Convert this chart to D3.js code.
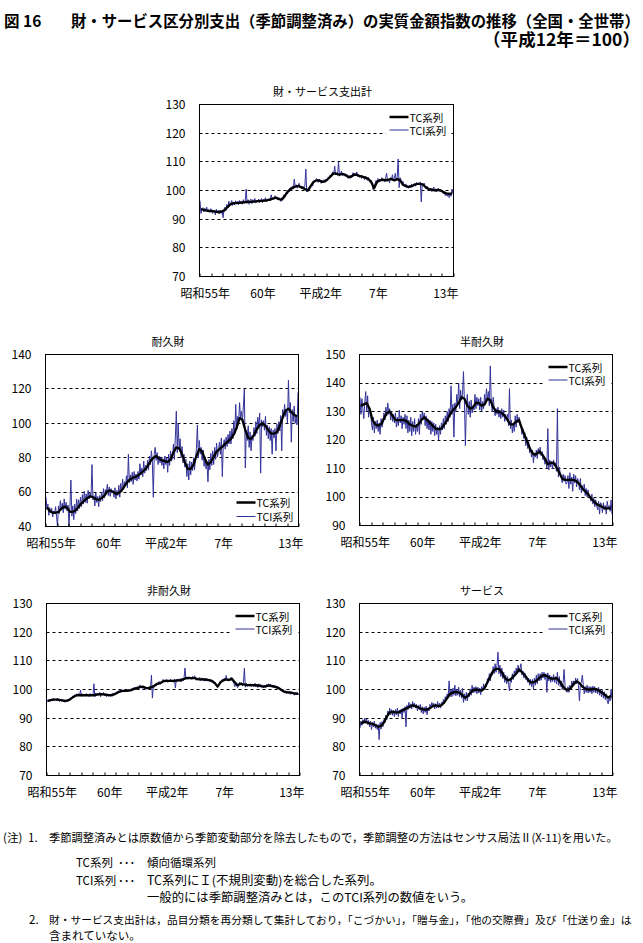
<!DOCTYPE html>
<html><head><meta charset="utf-8">
<script src="https://cdn.jsdelivr.net/npm/d3@7"></script>
<style>
html,body{margin:0;padding:0;background:#fff;}
svg{display:block;}
</style></head><body>
<svg id="c" width="643" height="943"></svg>
<script>
// ---------------- DATA ----------------
const startYear = 1980;
const endYear = 2002;
const xLabelYears = [1980, 1985, 1990, 1995, 2001];
const xLabels = ["昭和55年", "60年", "平成2年", "7年", "13年"];
const seriesNames = ["TC系列", "TCI系列"];
const panelTitles = ["財・サービス支出計", "耐久財", "半耐久財", "非耐久財", "サービス"];
const ticks70to130 = [70, 80, 90, 100, 110, 120, 130];
const ticks40to140 = [40, 60, 80, 100, 120, 140];
const ticks90to150 = [90, 100, 110, 120, 130, 140, 150];

// TC series: quarterly values (4 per year, 1980-2001)
const totalTC = [
 93.5,93.2,93.0,92.8, 92.8,92.6,92.5,92.6, 93.0,94.0,95.0,95.5, 95.6,95.7,95.8,95.9,
 96.0,96.0,96.1,96.2, 96.3,96.4,96.5,96.6, 96.8,97.2,97.5,97.0, 96.8,98.0,99.5,100.5,
 101.0,101.5,101.5,101.0, 100.5,100.0,101.5,103.0, 103.5,103.5,103.0,103.2, 104.0,105.0,106.0,105.8,
 105.5,105.8,105.5,104.8, 104.8,105.5,105.5,105.0, 104.8,104.5,104.0,103.0, 100.8,103.0,103.5,103.8,
 103.5,103.8,104.0,103.5, 104.0,103.5,102.0,101.5, 101.3,101.5,102.0,102.3, 102.3,102.0,101.0,100.5,
 100.3,100.0,100.2,100.0, 99.5,99.0,98.8,99.0];
// TCI series: monthly values (12 per year, 1980-2001)
const totalTCI = [
 96.5,92.0,93.5,94.0,92.5,93.8,93.0,94.2,92.6,93.4,92.4,93.6,
 93.5,92.0,93.2,92.8,91.5,93.5,92.4,93.0,91.8,93.2,92.0,93.0,
 90.5,93.5,94.2,93.0,95.2,94.0,96.3,94.6,95.5,96.5,94.8,96.0,
 95.0,96.4,95.3,96.2,95.0,96.5,95.4,96.3,95.2,96.8,95.6,96.2,
 100.5,95.5,96.8,95.2,96.5,97.0,95.4,96.8,95.8,97.2,95.6,96.5,
 96.0,97.0,95.8,96.6,97.2,95.8,96.9,96.2,97.5,96.0,97.0,96.4,
 97.2,96.5,98.5,96.8,97.6,97.0,98.2,97.2,97.8,96.8,97.5,97.3,
 96.2,97.5,97.0,98.5,97.6,99.0,99.5,98.8,100.2,99.5,101.0,100.3,
 101.5,100.5,104.0,101.2,102.0,100.8,101.8,102.5,101.0,101.6,100.6,101.5,
 100.8,101.5,107.5,99.5,100.2,99.8,100.5,101.0,102.0,101.5,102.8,103.5,
 103.0,104.2,103.5,102.8,104.0,103.6,102.5,103.5,102.8,103.8,103.2,104.0,
 103.5,104.5,104.2,105.2,104.8,105.8,106.5,105.5,108.5,105.6,106.2,105.3,
 110.0,105.0,105.8,106.8,105.2,106.0,105.0,105.8,104.8,105.5,104.2,105.0,
 104.2,105.4,104.8,106.2,105.0,106.0,105.2,106.5,104.8,105.6,104.6,105.4,
 104.2,105.2,104.5,103.8,105.0,104.4,103.5,104.6,103.6,102.8,103.5,102.0,
 100.2,101.0,102.5,103.5,102.8,104.2,103.0,104.0,103.5,104.5,103.2,104.0,
 103.0,104.5,106.0,103.2,104.0,102.6,104.5,103.8,105.5,103.5,104.2,106.0,
 103.5,104.8,111.0,101.0,104.5,103.6,102.5,103.2,102.0,101.5,102.3,101.0,
 101.5,100.8,101.8,101.0,102.3,101.2,102.0,102.5,101.5,102.8,102.0,102.6,
 102.0,103.0,96.0,102.5,101.8,102.6,101.2,100.8,101.5,100.2,100.8,100.0,
 100.8,99.6,100.5,101.2,99.8,100.6,99.5,100.4,100.8,99.8,100.5,99.6,
 100.2,98.8,99.5,98.2,99.0,98.0,99.2,97.5,98.8,98.0,100.5,98.8];

const durableTC = [
 51.0,49.0,48.0,48.0, 48.5,50.5,51.5,51.0, 48.5,48.5,49.5,51.5, 53.5,55.0,56.5,57.5,
 57.0,56.0,55.5,56.5, 58.0,60.5,61.0,60.0, 59.0,59.5,61.0,63.5, 66.0,67.5,68.5,69.0,
 70.0,71.5,73.0,75.0, 78.0,80.0,81.0,79.5, 78.5,78.0,77.5,79.0, 83.0,86.0,85.5,82.0,
 77.0,73.5,73.5,76.0, 81.0,85.0,83.5,79.0, 76.0,77.5,80.5,83.5, 85.0,86.5,88.0,89.5,
 91.0,93.5,97.5,103.0, 102.0,96.0,91.5,91.0, 93.0,96.5,99.0,100.0, 98.5,96.0,94.0,94.0,
 95.0,98.5,103.5,107.5, 108.5,106.5,105.0,104.0];
const durableTCI = [
 57.0,50.0,53.0,46.5,51.0,48.0,50.5,45.5,49.0,47.5,51.5,46.0,
 40.0,52.0,47.5,55.0,49.5,53.5,48.0,56.0,50.0,54.0,49.0,52.5,
 40.0,51.5,67.0,46.0,52.0,44.0,53.0,47.5,56.0,49.0,55.5,50.5,
 57.0,51.5,58.5,53.0,60.5,54.0,59.0,53.5,61.0,56.0,59.5,57.0,
 76.0,55.5,58.0,52.0,59.5,54.0,57.5,51.5,58.0,54.5,60.0,55.0,
 62.0,56.5,61.5,59.0,64.5,58.0,63.0,57.5,62.0,59.5,61.0,57.0,
 62.5,56.0,61.0,58.0,64.0,57.0,65.0,60.0,67.5,61.5,66.0,64.0,
 69.5,62.5,82.0,65.5,70.0,66.0,71.5,64.5,72.0,67.0,70.5,66.5,
 72.0,67.5,76.5,70.0,74.0,69.0,78.0,71.0,75.5,72.5,78.5,73.0,
 81.0,76.0,84.0,77.5,57.0,82.5,86.0,78.5,83.0,76.0,81.0,77.0,
 80.5,75.5,79.5,73.5,81.0,76.0,80.0,71.5,82.0,75.5,84.0,78.0,
 80.0,88.0,79.0,92.0,107.0,83.0,100.0,84.5,91.0,80.0,86.5,77.0,
 82.0,74.5,79.0,69.0,76.5,67.0,78.0,70.0,77.5,72.5,80.0,73.0,
 79.0,85.5,99.0,80.0,90.0,82.0,86.0,78.5,84.5,75.0,80.5,73.5,
 77.5,66.0,79.0,73.0,82.5,75.5,84.0,76.0,86.0,79.0,88.5,80.5,
 84.0,89.0,82.0,91.5,69.0,87.0,90.5,85.0,92.0,86.5,93.5,88.0,
 95.5,88.0,97.0,91.0,101.5,94.0,111.0,96.5,104.0,100.0,112.0,103.0,
 107.0,101.0,110.0,120.0,74.0,96.0,90.0,98.5,86.0,95.0,84.0,93.0,
 90.0,97.5,92.5,101.0,94.0,103.5,98.0,106.0,71.0,102.0,98.0,101.5,
 96.0,104.0,93.0,99.0,91.0,98.0,90.0,97.0,82.0,96.0,91.5,97.0,
 84.0,99.5,94.0,101.0,95.5,104.5,84.0,108.0,103.0,111.0,104.0,108.0,
 100.0,125.0,106.0,112.0,89.0,108.0,101.0,110.0,100.0,104.0,99.0,118.0];

const semiTC = [
 132.0,132.5,133.0,131.0, 127.0,125.5,125.0,125.5, 127.5,129.5,130.0,128.5, 127.0,127.0,127.0,127.0,
 126.5,125.5,125.0,124.7, 125.5,127.0,128.0,127.0, 126.0,125.0,124.0,123.8, 124.0,125.5,127.0,129.0,
 130.5,131.5,133.0,135.0, 134.5,132.0,131.0,131.5, 133.0,133.0,132.0,132.5, 134.5,134.0,131.5,130.0,
 130.0,129.5,128.5,127.0, 125.5,125.5,126.5,127.0, 124.0,121.5,119.0,116.5, 115.0,115.0,116.0,115.0,
 113.5,111.5,112.0,112.0, 110.5,108.5,106.5,106.0, 106.0,106.0,106.0,105.5, 104.5,103.0,102.0,101.0,
 99.5,98.5,97.5,97.0, 96.5,96.0,96.0,96.0];
const semiTCI = [
 135.0,129.0,134.5,131.0,127.5,133.0,137.0,130.0,135.5,128.0,131.5,129.5,
 126.0,123.5,128.0,122.5,126.5,124.0,127.0,123.0,126.0,122.0,127.5,124.5,
 126.0,129.5,127.0,131.5,128.5,133.0,129.0,131.0,127.0,130.0,126.5,129.0,
 126.0,129.5,124.5,128.0,125.0,130.5,126.0,128.5,124.0,128.0,125.5,129.0,
 124.0,128.5,122.5,127.0,123.0,128.0,121.5,126.5,123.0,127.5,122.0,125.5,
 123.0,127.5,122.0,129.0,125.5,130.0,127.0,129.5,125.0,128.5,124.0,127.5,
 123.5,127.0,122.0,126.5,123.0,126.0,121.5,125.5,122.0,124.5,120.0,125.0,
 122.0,126.0,123.5,127.5,124.0,128.5,125.5,130.0,126.5,131.0,128.0,139.0,
 129.0,132.5,121.0,133.0,130.0,136.0,132.5,140.0,131.0,137.5,134.0,136.0,
 144.0,133.0,118.0,131.5,136.0,129.0,133.5,128.0,134.0,129.5,132.0,130.5,
 136.0,131.0,135.0,132.0,134.5,130.5,135.0,130.0,133.5,131.0,136.0,133.0,
 138.0,134.0,137.0,132.0,146.0,133.5,130.0,135.0,131.5,128.5,131.0,129.0,
 131.5,128.0,130.5,127.5,131.0,128.0,130.5,126.5,129.0,127.0,129.0,125.0,
 138.0,124.0,127.0,122.5,126.0,123.0,128.5,124.5,129.0,126.0,128.0,125.0,
 125.0,122.0,124.0,120.5,122.5,118.0,121.0,117.0,119.5,115.5,117.0,114.0,
 116.5,112.0,115.5,114.0,116.5,113.5,117.0,115.0,117.5,114.5,116.0,113.0,
 114.0,111.5,113.0,110.0,124.0,109.5,113.0,110.5,112.5,110.0,113.0,111.0,
 112.0,109.0,131.0,107.0,110.5,108.0,107.0,105.0,108.0,105.5,107.5,104.5,
 105.0,107.5,103.0,108.5,104.5,107.0,102.0,108.0,105.0,107.5,103.5,106.5,
 105.5,102.5,106.5,101.5,104.0,102.0,104.5,100.5,103.0,100.0,102.5,100.5,
 100.0,98.5,101.0,97.5,99.5,96.5,99.0,97.0,95.5,98.5,94.0,98.0,
 97.5,94.5,98.0,95.5,97.0,94.0,98.5,96.0,97.0,95.0,99.0,94.0];

const nondurTC = [
 96.0,96.3,96.5,96.5, 96.4,96.2,96.0,96.2, 96.8,97.5,98.0,98.0, 98.0,98.0,98.0,98.0,
 98.0,98.2,98.4,98.3, 98.2,98.0,98.0,98.3, 98.8,99.3,99.5,99.5, 99.6,99.8,100.2,100.5,
 100.8,101.0,100.6,100.5, 100.8,101.3,102.0,102.2, 102.8,103.0,103.0,103.0, 103.0,103.2,103.2,103.5,
 104.0,104.0,104.0,104.0, 103.6,103.5,103.5,103.4, 103.3,103.0,102.3,101.0, 102.5,103.2,103.5,103.3,
 103.8,102.5,101.5,102.0, 101.8,101.6,101.5,101.5, 101.5,101.4,101.2,101.0, 101.2,101.4,101.2,101.0,
 100.6,100.0,99.3,99.0, 99.0,98.8,98.6,98.5];
const nondurTCI = [
 95.5,96.4,95.8,96.6,96.0,96.8,96.2,96.9,96.3,96.7,96.2,97.0,
 96.3,95.8,96.6,95.9,96.4,95.7,96.3,95.5,96.2,95.8,96.5,96.0,
 96.5,97.2,96.8,97.8,97.3,98.2,97.6,98.5,97.8,98.6,97.9,99.8,
 97.6,98.5,97.8,98.4,97.7,98.6,97.9,98.3,97.5,98.6,97.8,98.4,
 98.0,102.0,97.4,98.8,97.9,98.6,98.0,99.0,97.5,98.8,98.2,99.0,
 97.8,98.6,97.5,98.5,97.7,98.4,98.0,98.5,97.6,98.8,98.0,98.7,
 98.5,99.3,98.8,99.6,99.0,100.0,99.2,99.8,99.1,99.9,99.3,99.7,
 99.2,100.0,99.4,100.2,99.6,100.5,99.9,100.8,100.1,100.9,100.3,101.0,
 100.4,101.6,100.7,101.2,100.3,101.0,100.2,100.9,100.1,100.8,100.2,101.0,
 100.3,105.0,97.0,101.0,100.8,101.9,101.3,102.3,101.6,102.8,101.8,102.6,
 102.4,103.5,102.7,103.4,102.6,103.5,102.5,103.3,102.7,103.6,102.8,103.2,
 102.5,103.6,100.5,103.5,102.8,103.7,102.9,103.8,102.7,103.9,103.0,104.0,
 107.5,103.5,104.4,103.6,104.5,103.7,104.3,103.5,104.6,103.8,104.8,103.6,
 103.2,104.0,103.3,104.2,103.0,104.1,103.2,103.9,102.9,104.0,103.1,103.8,
 103.0,103.6,102.8,103.4,102.5,103.2,102.0,102.6,101.5,101.8,100.8,101.3,
 101.8,103.0,102.6,103.6,102.9,104.0,103.2,104.9,103.1,103.8,103.0,103.6,
 104.2,103.0,102.8,102.2,101.0,102.0,101.2,100.6,101.8,102.5,101.6,102.4,
 101.2,102.5,107.5,100.8,102.2,101.0,101.8,101.2,102.0,101.0,101.9,101.2,
 101.0,102.2,100.9,101.9,100.7,102.0,101.0,101.8,100.8,101.6,100.6,101.4,
 100.6,101.8,100.9,102.0,101.0,101.8,100.8,101.6,100.6,101.4,100.5,101.2,
 100.2,101.0,100.3,100.6,99.6,100.2,99.2,99.8,98.8,99.6,98.6,99.4,
 98.6,99.4,98.3,99.2,98.4,99.0,98.0,98.9,98.2,99.0,98.1,98.7];

const serviceTC = [
 88.0,88.8,88.5,88.2, 88.0,87.5,87.0,87.3, 88.5,90.5,92.0,92.2, 92.0,92.0,92.5,93.0,
 93.5,94.0,94.5,94.2, 93.7,93.2,93.0,93.0, 93.5,94.2,94.5,94.2, 94.5,95.5,97.0,98.5,
 99.0,99.2,99.0,98.3, 97.2,97.5,98.8,99.8, 100.0,99.8,99.6,100.5, 102.5,104.5,106.5,107.2,
 107.2,106.0,104.2,103.2, 103.5,104.5,105.5,107.0, 106.0,105.0,103.5,102.5, 102.5,103.0,104.0,104.8,
 105.0,104.5,103.8,103.8, 104.0,103.0,101.5,100.2, 99.8,100.5,102.0,102.8, 102.3,101.0,100.3,100.0,
 100.0,100.2,100.0,99.5, 98.8,98.0,97.2,97.8];
const serviceTCI = [
 86.5,89.0,87.5,89.5,88.0,90.0,88.5,89.8,87.8,89.2,87.0,89.0,
 86.0,88.5,87.0,89.0,86.5,88.0,86.0,87.8,82.5,88.5,86.2,88.8,
 87.0,89.5,88.5,91.0,89.5,92.5,91.0,93.5,91.2,93.0,91.0,92.8,
 90.5,93.0,91.2,93.5,90.5,92.8,91.5,93.2,90.0,93.5,92.0,94.0,
 87.0,94.5,93.0,95.5,93.5,95.0,93.2,95.8,93.8,95.2,93.5,94.8,
 92.5,94.5,93.0,94.8,92.0,94.0,91.5,93.8,92.0,94.2,91.2,93.6,
 92.5,94.8,93.5,95.5,93.8,95.2,93.2,95.0,93.5,95.8,93.6,95.2,
 93.5,95.5,94.5,96.5,95.0,97.5,96.5,98.5,97.0,103.0,97.5,100.0,
 97.5,100.5,98.0,101.5,97.8,100.2,98.0,100.8,97.5,99.8,97.0,100.5,
 95.5,98.5,96.2,99.0,96.0,98.8,97.5,100.2,98.0,101.5,98.8,100.8,
 99.0,101.0,98.5,100.8,98.8,100.5,98.2,101.0,99.5,102.0,100.0,101.8,
 101.0,103.8,102.5,105.5,103.0,106.0,105.0,108.0,105.5,109.0,106.0,108.5,
 113.0,105.5,108.5,104.5,107.5,103.8,106.0,102.5,105.0,102.0,104.5,101.8,
 99.5,104.0,102.5,105.5,103.5,106.5,104.8,107.5,105.5,108.5,106.0,107.5,
 109.0,105.0,106.5,104.0,105.8,103.5,104.5,102.5,104.0,101.5,103.5,101.0,
 103.5,100.0,104.0,101.5,105.0,102.0,105.5,103.0,105.5,103.2,106.0,104.0,
 106.0,103.5,105.5,99.0,105.8,103.0,105.0,102.5,104.5,102.8,105.2,102.5,
 104.5,102.0,106.0,101.5,104.5,101.0,103.0,100.0,102.5,107.0,101.0,99.5,
 99.0,101.0,99.0,101.5,100.0,103.0,101.0,103.0,101.5,104.0,102.0,103.8,
 101.5,96.0,102.0,102.5,105.0,101.8,98.5,101.0,99.0,101.5,98.8,101.0,
 99.0,101.0,98.5,101.2,99.0,101.0,98.8,100.5,98.5,100.8,98.0,100.0,
 97.5,99.8,97.0,99.2,96.5,98.5,96.0,95.0,97.5,96.0,100.0,96.5];

const titleMain = "財・サービス区分別支出（季節調整済み）の実質金額指数の推移（全国・全世帯）";
const titleNum = "図 16";
const titleBase = "（平成12年＝100）";
const notes = [
  {x: 3, y: 837, t: "(注)", w: 0},
  {x: 28, y: 837, t: "1.", w: 0},
  {x: 49, y: 837, t: "季節調整済みとは原数値から季節変動部分を除去したもので，季節調整の方法はセンサス局法Ⅱ(X-11)を用いた。", w: 569},
  {x: 76, y: 862, t: "TC系列", w: 0},
  {x: 118, y: 862, t: "･･･", w: 0},
  {x: 147, y: 862, t: "傾向循環系列", w: 0},
  {x: 76, y: 880, t: "TCI系列", w: 0},
  {x: 118, y: 880, t: "･･･", w: 0},
  {x: 147, y: 880, t: "TC系列にＩ(不規則変動)を総合した系列。", w: 235},
  {x: 147, y: 897, t: "一般的には季節調整済みとは，このTCI系列の数値をいう。", w: 326},
  {x: 29, y: 919, t: "2.", w: 0},
  {x: 49, y: 919, t: "財・サービス支出計は，品目分類を再分類して集計しており，「こづかい」，「贈与金」，「他の交際費」及び「仕送り金」は", w: 583},
  {x: 49, y: 935, t: "含まれていない。", w: 0}
];

// ---------------- LAYOUT ----------------
const panels = [
  {title: panelTitles[0], tc: totalTC,   tci: totalTCI,   ticks: ticks70to130, box: [199.5, 104.5, 453.5, 276.5], legend: "top"},
  {title: panelTitles[1], tc: durableTC, tci: durableTCI, ticks: ticks40to140, box: [45.5, 354.5, 298.5, 526.5],  legend: "bottom"},
  {title: panelTitles[2], tc: semiTC,    tci: semiTCI,    ticks: ticks90to150, box: [359.5, 354.5, 612.5, 525.5], legend: "top"},
  {title: panelTitles[3], tc: nondurTC,  tci: nondurTCI,  ticks: ticks70to130, box: [46.5, 603.5, 299.5, 775.5],  legend: "top"},
  {title: panelTitles[4], tc: serviceTC, tci: serviceTCI, ticks: ticks70to130, box: [359.5, 603.5, 612.5, 775.5], legend: "top"}
];
const JP = "'Noto Sans CJK JP', 'Noto Sans', sans-serif";
const TCI_COLOR = "#333399";

const svg = d3.select("#c");
svg.append("rect").attr("width", 643).attr("height", 943).attr("fill", "#fff");

// fit a text's font size so that its natural width equals the target width
function fitWidth(sel, base, target) {
  sel.attr("font-size", base);
  const w = sel.node().getComputedTextLength();
  if (w > 0 && target > 0) sel.attr("font-size", (base * target / w).toFixed(2));
  return sel;
}

// Title
svg.append("text").attr("x", 4).attr("y", 20).attr("dominant-baseline", "central")
  .attr("font-family", JP).attr("font-size", 15.5).attr("font-weight", 700).text(titleNum);
fitWidth(svg.append("text").attr("x", 71).attr("y", 20).attr("dominant-baseline", "central")
  .attr("font-family", JP).attr("font-weight", 700).text(titleMain), 15.3, 569);
fitWidth(svg.append("text").attr("x", 640).attr("y", 38).attr("dominant-baseline", "central")
  .attr("text-anchor", "end").attr("font-family", JP).attr("font-weight", 700).text(titleBase), 15.3, 157);

const snap = v => Math.round(v - 0.5) + 0.5;

panels.forEach(p => {
  const [l, t, r, b] = p.box;
  const x = d3.scaleLinear().domain([startYear, endYear]).range([l, r]);
  const y = d3.scaleLinear().domain([p.ticks[0], p.ticks[p.ticks.length - 1]]).range([b, t]);
  const g = svg.append("g");

  // gridlines
  g.selectAll("line.grid").data(p.ticks.slice(1, -1)).join("line")
    .attr("x1", l).attr("x2", r)
    .attr("y1", d => snap(y(d))).attr("y2", d => snap(y(d)))
    .attr("stroke", "#000").attr("stroke-width", 1).attr("stroke-dasharray", "3,3");

  // clip
  const cid = "clip" + Math.round(l) + "_" + Math.round(t);
  svg.append("clipPath").attr("id", cid).append("rect").attr("x", l).attr("y", t).attr("width", r - l).attr("height", b - t);

  const tciPts = p.tci.map((v, i) => [startYear + (i + 0.5) / 12, v]);
  const tcPts = p.tc.map((v, i) => [startYear + (i * 3 + 1.5) / 12, v]);
  const line = d3.line().x(d => x(d[0])).y(d => y(d[1]));

  let lx, ly1, ly2;
  if (p.legend === "top") { lx = r - 64; ly1 = t + 12.5; ly2 = t + 25.5; }
  else { lx = r - 62; ly1 = b - 24; ly2 = b - 10; }
  g.append("rect").attr("x", lx - 4).attr("y", ly1 - 7).attr("width", r - 3 - (lx - 4)).attr("height", ly2 - ly1 + 14).attr("fill", "#fff");

  const lg = g.append("g").attr("clip-path", `url(#${cid})`);
  lg.append("path").attr("d", line(tciPts)).attr("fill", "none").attr("stroke", TCI_COLOR).attr("stroke-width", 1);
  lg.append("path").attr("d", line(tcPts)).attr("fill", "none").attr("stroke", "#000").attr("stroke-width", 2.3).attr("stroke-linejoin", "round");

  // frame
  g.append("rect").attr("x", l).attr("y", t).attr("width", r - l).attr("height", b - t)
    .attr("fill", "none").attr("stroke", "#000").attr("stroke-width", 1);

  // x ticks (inward)
  const yearTicks = d3.range(startYear, endYear + 1);
  const xa = g.append("g").attr("transform", `translate(0,${b})`)
    .call(d3.axisBottom(x).tickValues(yearTicks).tickSize(-3).tickFormat(""));
  xa.select(".domain").remove();
  xa.selectAll(".tick line").attr("stroke", "#000").attr("transform", d => `translate(${snap(x(d)) - x(d)},0)`);

  // x labels
  g.selectAll("text.xl").data(xLabelYears).join("text")
    .attr("x", d => x(d + 0.5)).attr("y", b + 16)
    .attr("text-anchor", "middle").attr("dominant-baseline", "central")
    .attr("font-family", JP).attr("font-size", 12).text((d, i) => xLabels[i])
    .each(function () {
      const w = this.getComputedTextLength();
      const cx = +this.getAttribute("x");
      if (cx + w / 2 > r + 5) { this.setAttribute("text-anchor", "end"); this.setAttribute("x", r + 5); }
    });

  // y labels
  const ya = g.append("g").attr("transform", `translate(${l},0)`)
    .call(d3.axisLeft(y).tickValues(p.ticks).tickSize(0).tickPadding(14));
  ya.select(".domain").remove();
  ya.selectAll("text").attr("font-family", JP).attr("font-size", 12).attr("fill", "#000");

  // legend
  g.append("line").attr("x1", lx).attr("x2", lx + 19).attr("y1", ly1).attr("y2", ly1).attr("stroke", "#000").attr("stroke-width", 2.5);
  g.append("line").attr("x1", lx).attr("x2", lx + 19).attr("y1", ly2).attr("y2", ly2).attr("stroke", TCI_COLOR).attr("stroke-width", 1);
  g.append("text").attr("x", lx + 20).attr("y", ly1).attr("dominant-baseline", "central")
    .attr("font-family", JP).attr("font-size", 10.5).text(seriesNames[0]);
  g.append("text").attr("x", lx + 20).attr("y", ly2).attr("dominant-baseline", "central")
    .attr("font-family", JP).attr("font-size", 10.5).text(seriesNames[1]);

  // panel title
  g.append("text").attr("x", (l + r) / 2 - 4).attr("y", t - 14)
    .attr("text-anchor", "middle").attr("dominant-baseline", "central")
    .attr("font-family", JP).attr("font-size", 11).text(p.title);
});

// notes
notes.forEach(d => {
  const s = svg.append("text").attr("x", d.x).attr("y", d.y).attr("dominant-baseline", "central")
    .attr("font-family", JP).text(d.t);
  if (d.w > 0) fitWidth(s, 11.5, d.w); else s.attr("font-size", 11.5);
});
</script>
</body></html>
